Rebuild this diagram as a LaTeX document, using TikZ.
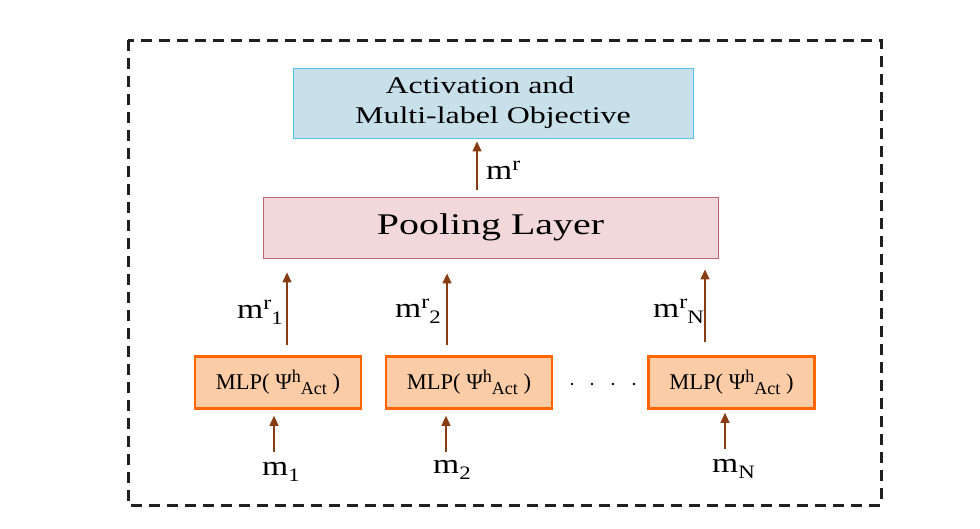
\documentclass[tikz,border=0pt]{standalone}
\usepackage{fontspec}
\setmainfont{Liberation Serif}
\newfontfamily\widefont[FakeStretch=1.33]{Liberation Serif}
\newfontfamily\lblfont[FakeStretch=1.2]{Liberation Serif}
\newfontfamily\mlpfont{Liberation Serif}
\usetikzlibrary{arrows.meta}
\definecolor{actfill}{RGB}{200,224,234}
\definecolor{actline}{RGB}{90,195,235}
\definecolor{poolfill}{RGB}{242,216,218}
\definecolor{poolline}{RGB}{200,100,110}
\definecolor{mlpfill}{RGB}{252,204,166}
\definecolor{mlpline}{RGB}{255,102,0}
\definecolor{arrbrown}{RGB}{135,60,20}
\definecolor{framecol}{RGB}{35,31,32}
\newcommand{\upr}[1]{\raisebox{9pt}{\fontsize{20}{20}\selectfont #1}}
\newcommand{\dnr}[1]{\raisebox{-6pt}{\fontsize{19}{19}\selectfont #1}}
\newcommand{\mlptext}{MLP( Ψ\raisebox{7pt}{\fontsize{18}{18}\selectfont h}\raisebox{-5pt}{\fontsize{18}{18}\selectfont Act} )}

\begin{document}
\begin{tikzpicture}[x=1pt,y=-1pt,>={Triangle[length=10pt,width=9pt]},
  actbox/.style={draw=actline, fill=actfill, line width=0.8pt, minimum width=400pt, minimum height=70pt, inner sep=0pt, align=center, font=\widefont\fontsize{24}{30}\selectfont},
  poolbox/.style={draw=poolline, fill=poolfill, line width=0.8pt, minimum width=455pt, minimum height=61pt, inner sep=0pt, font=\widefont\fontsize{30}{36}\selectfont},
  mlpbox/.style={draw=mlpline, fill=mlpfill, line width=2.6pt, minimum width=166pt, minimum height=52pt, inner sep=0pt, font=\mlpfont\fontsize{22.5}{26}\selectfont},
  lbl/.style={anchor=base west, inner sep=0pt, font=\lblfont\fontsize{28}{32}\selectfont},
  arr/.style={->, draw=arrbrown, fill=arrbrown, line width=1.3pt},
  frame/.style={draw=framecol, line width=3pt, dash pattern=on 11pt off 7pt}]
\useasboundingbox (0,0) rectangle (980,528);
\draw[frame] (128,40) rectangle (881,505);

% boxes
\node[actbox] (act) at (493,103) {Activation and\hspace*{26pt}\\Multi-label Objective};
\node[poolbox] (pool) at (490.5,227.5) {Pooling Layer};
\node[mlpbox] (mlp1) at (278,382.5) {\mlptext};
\node[mlpbox] (mlp2) at (469,382.5) {\mlptext};
\node[mlpbox] (mlpN) at (731.5,382.5) {\mlptext};
\foreach \x in {572,592,613,634}
  \fill (\x,384) circle (1.3);

% labels
\node[lbl] (mr) at (486,179) {m\upr{r}};
\node[lbl] (mr1) at (237,318) {m\upr{r}\dnr{1}};
\node[lbl] (mr2) at (395,317) {m\upr{r}\dnr{2}};
\node[lbl] (mrN) at (653,317) {m\upr{r}\dnr{N}};
\node[lbl] (m1) at (262,475) {m\dnr{1}};
\node[lbl] (m2) at (433,473) {m\dnr{2}};
\node[lbl] (mN) at (712,472) {m\dnr{N}};

% arrows
\coordinate (r0) at (477,190);
\coordinate (r1) at (287,345);
\coordinate (r2) at (447,345);
\coordinate (rN) at (705,342);
\coordinate (in1) at (274,452);
\coordinate (in2) at (446,452);
\coordinate (inN) at (725,449);
\draw[arr, shorten >=3pt] (r0) -- (r0 |- act.south);
\draw[arr, shorten >=14pt] (r1) -- (r1 |- pool.south);
\draw[arr, shorten >=15pt] (r2) -- (r2 |- pool.south);
\draw[arr, shorten >=11pt] (rN) -- (rN |- pool.south);
\draw[arr, shorten >=6pt] (in1) -- (in1 |- mlp1.south);
\draw[arr, shorten >=6pt] (in2) -- (in2 |- mlp2.south);
\draw[arr, shorten >=3pt] (inN) -- (inN |- mlpN.south);
\end{tikzpicture}
\end{document}
